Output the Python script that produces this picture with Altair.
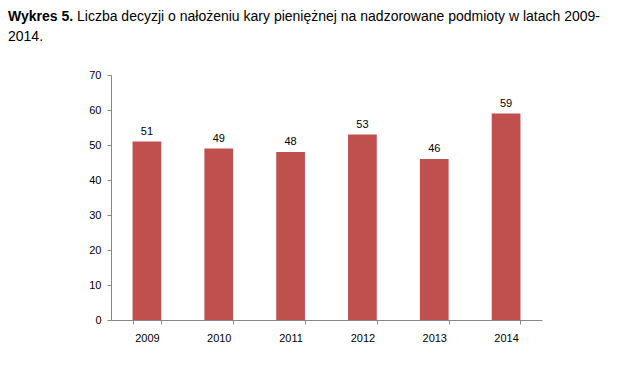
import altair as alt
import pandas as pd

years = ["2009", "2010", "2011", "2012", "2013", "2014"]
values = [51, 49, 48, 53, 46, 59]
y_ticks = [0, 10, 20, 30, 40, 50, 60, 70]
title_bold = "Wykres 5."
title_line1 = "Liczba decyzji o nałożeniu kary pieniężnej na nadzorowane podmioty w latach 2009-"
title_line2 = "2014."

df = pd.DataFrame({"year": years, "value": values})

FONT = "Liberation Sans"
W, H = 431, 245

x = alt.X("year:N", sort=years, title=None,
          scale=alt.Scale(paddingInner=0.6, paddingOuter=0.3),
          axis=alt.Axis(labelAngle=0, tickBand="extent", tickSize=4,
                        labelPadding=8, domainColor="#868686", tickColor="#868686",
                        labelColor="#000000", labelFont=FONT, labelFontSize=11,
                        grid=False))
y = alt.Y("value:Q", title=None,
          scale=alt.Scale(domain=[0, 70], nice=False, zero=True),
          axis=alt.Axis(values=y_ticks, tickSize=4, labelPadding=6,
                        labelOverlap=False,
                        domainColor="#868686", tickColor="#868686",
                        labelColor="#000000", labelFont=FONT, labelFontSize=11,
                        grid=False))

base = alt.Chart(df).encode(x=x, y=y)
bars = base.mark_bar(color="#C0504D")
labels = base.mark_text(baseline="alphabetic", dy=-7, font=FONT,
                        fontSize=11, color="#000000").encode(text="value:Q")

t1 = alt.Chart(pd.DataFrame({"t": [title_bold]})).mark_text(
    align="left", baseline="alphabetic", font=FONT, fontSize=14,
    fontWeight="bold", color="#000000").encode(
    x=alt.value(-103), y=alt.value(-54), text="t:N")
t2 = alt.Chart(pd.DataFrame({"t": [title_line1]})).mark_text(
    align="left", baseline="alphabetic", font=FONT, fontSize=14,
    color="#000000").encode(
    x=alt.value(-34), y=alt.value(-54), text="t:N")
t3 = alt.Chart(pd.DataFrame({"t": [title_line2]})).mark_text(
    align="left", baseline="alphabetic", font=FONT, fontSize=14,
    color="#000000").encode(
    x=alt.value(-103), y=alt.value(-34), text="t:N")

chart = alt.layer(bars, labels, t1, t2, t3).properties(
    width=W, height=H,
    autosize=alt.AutoSizeParams(type="none"),
    padding={"left": 103, "top": 67, "right": 90, "bottom": 40},
).configure_view(stroke=None)

chart.save("out.html", embed_options={"renderer": "svg", "actions": False})
